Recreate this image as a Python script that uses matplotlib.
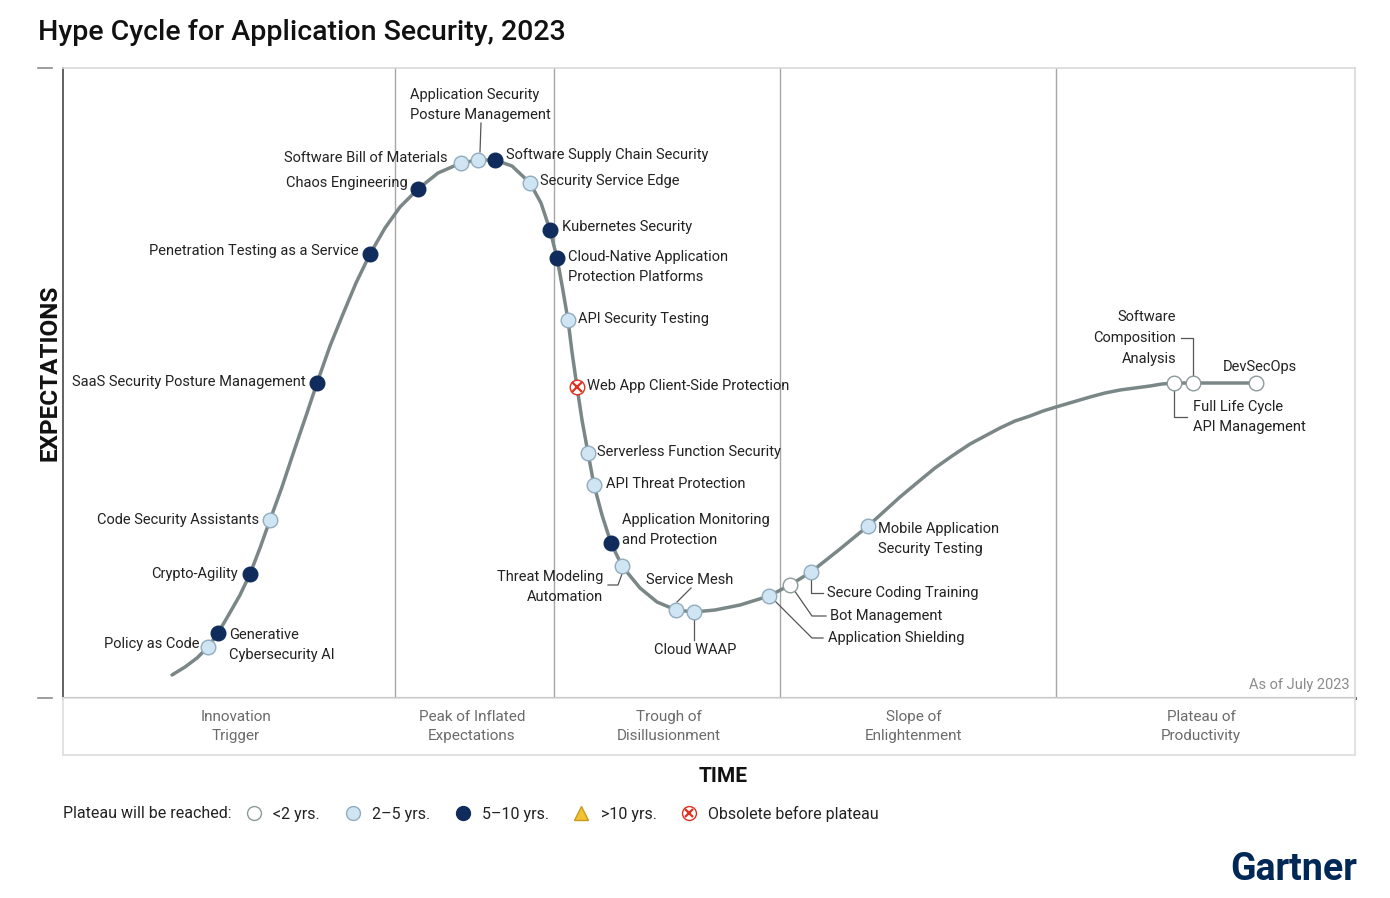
import matplotlib.pyplot as plt
from matplotlib.lines import Line2D

plt.rcParams['font.family'] = ['Roboto', 'DejaVu Sans']

# hype curve (time, expectations) in arbitrary units
curve_time = [109, 122, 134, 145, 155, 165, 177, 187, 197, 207, 219, 232, 244, 254,
              267, 280, 293, 307, 322, 337, 355, 375, 398, 415, 432, 449, 467, 478,
              487, 494, 499, 505, 509, 514, 519, 525, 531, 539, 548, 559, 577, 594,
              613, 631, 652, 677, 706, 727, 748, 777, 805, 837, 855, 872, 889, 907,
              922, 937, 952, 967, 980, 993, 1010, 1027, 1042, 1057, 1072, 1087, 1099,
              1111, 1130, 1193]
curve_exp = [23, 31, 40, 51, 65, 82, 103, 124, 150, 178, 211, 250, 285, 315,
             352, 384, 415, 444, 470, 491, 509, 525, 535, 538, 538, 532, 515, 495,
             468, 440, 413, 378, 346, 311, 278, 245, 213, 183, 155, 132, 110, 96,
             88, 86, 88, 93, 102, 113, 126, 149, 172, 201, 216, 230, 242, 254,
             262, 270, 277, 282, 287, 291, 296, 301, 305, 308, 310, 312, 314,
             315, 315, 315]

tech_names = ["Policy as Code", "Generative\nCybersecurity AI", "Crypto-Agility",
              "Code Security Assistants", "SaaS Security Posture Management",
              "Penetration Testing as a Service", "Chaos Engineering",
              "Software Bill of Materials", "Application Security\nPosture Management",
              "Software Supply Chain Security", "Security Service Edge",
              "Kubernetes Security", "Cloud-Native Application\nProtection Platforms",
              "API Security Testing", "Web App Client-Side Protection",
              "Serverless Function Security", "API Threat Protection",
              "Application Monitoring\nand Protection", "Threat Modeling\nAutomation",
              "Service Mesh", "Cloud WAAP", "Application Shielding", "Bot Management",
              "Secure Coding Training", "Mobile Application\nSecurity Testing",
              "Full Life Cycle\nAPI Management", "Software\nComposition\nAnalysis",
              "DevSecOps"]
tech_time = [145, 155, 187, 207, 254, 307, 355, 398, 415, 432, 467, 487, 494, 505,
             514, 525, 531, 548, 559, 613, 631, 706, 727, 748, 805, 1111, 1130, 1193]
tech_exp = [51, 65, 124, 178, 315, 444, 509, 535, 538, 538, 515, 468, 440, 378,
            311, 245, 213, 155, 132, 88, 86, 102, 113, 126, 172, 315, 315, 315]
tech_plateau = ["2-5", "5-10", "5-10", "2-5", "5-10", "5-10", "5-10", "2-5", "2-5",
                "5-10", "2-5", "5-10", "5-10", "2-5", "obsolete", "2-5", "2-5", "5-10",
                "2-5", "2-5", "2-5", "2-5", "<2", "2-5", "2-5", "<2", "<2", "<2"]

phase_names = ["Innovation\nTrigger", "Peak of Inflated\nExpectations",
               "Trough of\nDisillusionment", "Slope of\nEnlightenment",
               "Plateau of\nProductivity"]
phase_bounds = [332, 491, 717, 993]
phase_centers = [173, 409, 606, 851, 1138]

legend_labels = ["<2 yrs.", "2\u20135 yrs.", "5\u201310 yrs.", ">10 yrs.",
                 "Obsolete before plateau"]

# label placement: offset in pixels (dx, dy), alignment, leader line points
label_layout = {
    "Policy as Code": (-9, 3, "right", None),
    "Generative\nCybersecurity AI": (11, -12, "left", None),
    "Crypto-Agility": (-12, 0, "right", None),
    "Code Security Assistants": (-11, 0, "right", None),
    "SaaS Security Posture Management": (-11, 1, "right", None),
    "Penetration Testing as a Service": (-11, 3, "right", None),
    "Chaos Engineering": (-10, 6, "right", None),
    "Software Bill of Materials": (-14, 5, "right", None),
    "Application Security\nPosture Management": (-68, 55, "left", [(2, 8), (3, 37)]),
    "Software Supply Chain Security": (11, 5, "left", None),
    "Security Service Edge": (10, 2, "left", None),
    "Kubernetes Security": (12, 3, "left", None),
    "Cloud-Native Application\nProtection Platforms": (11, -9, "left", None),
    "API Security Testing": (10, 1, "left", None),
    "Web App Client-Side Protection": (10, 1, "left", None),
    "Serverless Function Security": (9, 1, "left", None),
    "API Threat Protection": (12, 1, "left", None),
    "Application Monitoring\nand Protection": (11, 13, "left", None),
    "Threat Modeling\nAutomation": (-19, -21, "right", [(0, -8), (-4, -19), (-14, -19)]),
    "Service Mesh": (14, 30, "center", [(1, 8), (15, 22)]),
    "Cloud WAAP": (1, -38, "center", [(0, -8), (0, -28)]),
    "Application Shielding": (59, -42, "left", [(5, -4), (43, -42), (54, -42)]),
    "Bot Management": (40, -31, "left", [(4, -5), (22, -31), (36, -31)]),
    "Secure Coding Training": (16, -21, "left", [(0, -7), (0, -21), (12, -21)]),
    "Mobile Application\nSecurity Testing": (10, -13, "left", None),
    "Full Life Cycle\nAPI Management": (19, -34, "left", [(0, -7), (0, -34), (13, -34)]),
    "Software\nComposition\nAnalysis": (-17, 45, "right", [(0, 7), (0, 45), (-12, 45)]),
    "DevSecOps": (4, 16, "center", None),
}

marker_style = {
    "<2": dict(marker="o", mfc="white", mec="#8c9a9a"),
    "2-5": dict(marker="o", mfc="#cfe5f3", mec="#92acbd"),
    "5-10": dict(marker="o", mfc="#102c5c", mec="#102c5c"),
    ">10": dict(marker="^", mfc="#f2c230", mec="#c99a20"),
    "obsolete": dict(marker="o", mfc="white", mec="#e0301e"),
}

W, H = 1390, 898


def fx(px):
    return px / W


def fy(py):
    return 1 - py / H


fig = plt.figure(figsize=(13.9, 8.98), dpi=100)
ax = fig.add_axes([fx(63), fy(698), 1292 / W, 630 / H])
ax.set_xlim(0, 1292)
ax.set_ylim(0, 630)
ax.set_xticks([])
ax.set_yticks([])
for side in ["top", "right"]:
    ax.spines[side].set_color("#d9d9d9")
    ax.spines[side].set_linewidth(1.2)
ax.spines["left"].set_color("#555555")
ax.spines["left"].set_linewidth(1.3)
ax.spines["bottom"].set_color("#6b6b6b")
ax.spines["bottom"].set_linewidth(2.2)

for b in phase_bounds:
    ax.axvline(b, color="#a6a6a6", lw=1.0, zorder=1)

ax.plot(curve_time, curve_exp, color="#7b8686", lw=2.5, solid_capstyle="round",
        solid_joinstyle="round", zorder=2)

for name, t, e, cat in zip(tech_names, tech_time, tech_exp, tech_plateau):
    dx, dy, ha, leader = label_layout[name]
    if leader:
        ax.plot([t + p[0] for p in leader], [e + p[1] for p in leader],
                color="#555555", lw=0.9, zorder=2)
    ax.plot(t, e, ms=10.5, mew=1.0, ls="none", zorder=4, **marker_style[cat])
    if cat == "obsolete":
        ax.plot(t, e, marker="x", ms=6.5, mew=1.6, color="#e0301e", ls="none", zorder=5)
    ax.annotate(name, (t, e), xytext=(dx, dy), textcoords="offset pixels",
                ha=ha, va="center", multialignment=ha, fontsize=10.5,
                color="#222222", linespacing=1.6, zorder=6)

ax.text(0.996, 0.02, "As of July 2023", transform=ax.transAxes, ha="right",
        va="center", fontsize=10.5, color="#8c8c8c")

# phase band
band = fig.add_axes([fx(63), fy(755), 1292 / W, 57 / H])
band.set_xlim(0, 1292)
band.set_ylim(0, 1)
band.set_xticks([])
band.set_yticks([])
for side in band.spines.values():
    side.set_color("#dddddd")
    side.set_linewidth(1.2)
for name, c in zip(phase_names, phase_centers):
    band.text(c, 0.5, name, ha="center", va="center", fontsize=11,
              color="#6b6b6b", linespacing=1.5)

# small dashes left of the axis
for py in (68, 698):
    fig.add_artist(Line2D([fx(38), fx(52)], [fy(py), fy(py)], color="#8c8c8c", lw=1.2))

fig.text(fx(38), fy(33), "Hype Cycle for Application Security, 2023", fontsize=20.5,
         fontweight="medium", color="#111111", va="center", ha="left")
fig.text(fx(50), fy(373), "EXPECTATIONS", rotation=90, fontsize=17.5,
         fontweight="bold", color="#111111", ha="center", va="center")
fig.text(fx(723), fy(777), "TIME", fontsize=15, fontweight="bold",
         color="#111111", ha="center", va="center")

# legend
fig.text(fx(63), fy(814), "Plateau will be reached:", fontsize=11.5,
         color="#222222", va="center", ha="left")
handles = []
for cat in ["<2", "2-5", "5-10", ">10"]:
    handles.append(Line2D([], [], ls="none", ms=10, mew=1.0, **marker_style[cat]))
handles.append((Line2D([], [], ls="none", ms=10, mew=1.0, **marker_style["obsolete"]),
                Line2D([], [], ls="none", marker="x", ms=6, mew=1.6, color="#e0301e")))
fig.legend(handles, legend_labels, loc="center left", bbox_to_anchor=(fx(246), fy(814)),
           ncol=5, frameon=False, fontsize=11.5, handlelength=1.0, handletextpad=0.7,
           columnspacing=1.55, borderaxespad=0, borderpad=0, labelcolor="#222222")

fig.text(fx(1357), fy(870), "Gartner", fontsize=27, fontweight="bold",
         color="#002856", ha="right", va="center")

fig.savefig("out.png", dpi=100)
